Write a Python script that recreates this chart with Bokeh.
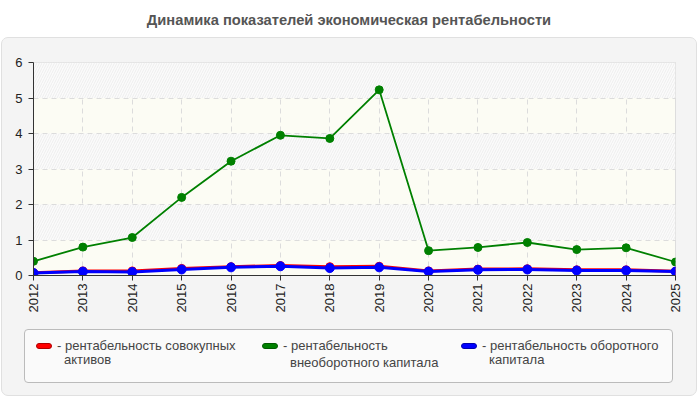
from bokeh.embed import file_html
from bokeh.layouts import column
from bokeh.models import Div, FixedTicker, Range1d
from bokeh.plotting import figure
from bokeh.resources import INLINE
from math import pi

# data
years = [2012, 2013, 2014, 2015, 2016, 2017, 2018, 2019, 2020, 2021, 2022, 2023, 2024, 2025]
total_assets = [0.08, 0.13, 0.13, 0.20, 0.25, 0.28, 0.25, 0.26, 0.13, 0.18, 0.19, 0.16, 0.16, 0.12]
noncurrent_capital = [0.40, 0.80, 1.07, 2.20, 3.22, 3.95, 3.86, 5.23, 0.70, 0.79, 0.93, 0.73, 0.78, 0.38]
current_capital = [0.07, 0.11, 0.10, 0.17, 0.23, 0.26, 0.21, 0.23, 0.11, 0.16, 0.17, 0.14, 0.14, 0.11]
y_ticks = [0, 1, 2, 3, 4, 5, 6]

title_text = "Динамика показателей экономическая рентабельности"
legend_lines = [
    ("рентабельность совокупных", "активов"),
    ("рентабельность", "внеоборотного капитала"),
    ("рентабельность оборотного", "капитала"),
]
colors = ["#ff0000", "#008000", "#0000ff"]
edges = ["#b00000", "#005a00", "#0000b0"]

FONT = "'Liberation Sans', Arial, sans-serif"

title = Div(
    text=title_text,
    width=698,
    height=37,
    margin=0,
    styles={
        "text-align": "center",
        "font-family": FONT,
        "font-weight": "bold",
        "font-size": "14.7px",
        "color": "#555555",
        "line-height": "40px",
    },
)

p = figure(
    width=694,
    height=280,
    min_border_left=31,
    min_border_right=21,
    min_border_top=24,
    min_border_bottom=43,
    x_range=Range1d(years[0], years[-1]),
    y_range=Range1d(0, 6),
    output_backend="svg",
    toolbar_location=None,
    tools="",
    margin=0,
)
p.border_fill_color = "#f4f4f4"
p.background_fill_color = "#fcfcf4"
p.outline_line_color = "#dddddd"

p.line(years, total_assets, line_color=colors[0], line_width=3)
p.scatter(years, total_assets, size=8, color=colors[0])
p.line(years, noncurrent_capital, line_color=colors[1], line_width=1.8)
p.scatter(years, noncurrent_capital, size=8, color=colors[1])
p.line(years, current_capital, line_color=colors[2], line_width=3)
p.scatter(years, current_capital, size=9, color=colors[2])

# grid and alternating hatched bands (0-1, 2-3, 4-5)
p.xgrid.ticker = FixedTicker(ticks=years)
p.ygrid.ticker = FixedTicker(ticks=[-1] + y_ticks)
p.grid.grid_line_color = "#dcdcdc"
p.grid.grid_line_dash = "5 4"
p.ygrid.band_fill_color = "#fbfbfb"
p.ygrid.band_fill_alpha = 1
p.ygrid.band_hatch_pattern = "/"
p.ygrid.band_hatch_color = "#eeeeee"
p.ygrid.band_hatch_scale = 5
p.ygrid.band_hatch_weight = 1

# axes
p.xaxis.ticker = FixedTicker(ticks=years)
p.yaxis.ticker = FixedTicker(ticks=y_ticks)
p.xaxis.major_label_orientation = pi / 2
p.axis.minor_tick_line_color = None
p.axis.major_tick_in = 0
p.axis.major_tick_out = 5
p.axis.axis_line_color = "#333333"
p.axis.major_tick_line_color = "#333333"
p.axis.major_label_text_color = "#222222"
p.axis.major_label_text_font = "Liberation Sans"
p.axis.major_label_text_font_size = "13px"
p.xaxis.major_label_standoff = 3
p.yaxis.major_label_standoff = 6

# legend box below the plot (multi-line labels)
item_left = [11, 237, 436]
second_gap = [0, 3, 0]
parts = []
for (first, second), color, edge, left, gap in zip(legend_lines, colors, edges, item_left, second_gap):
    parts.append(
        f'<div style="position:absolute;left:{left}px;top:9px;">'
        f'<span style="position:absolute;left:0;top:4px;width:16px;height:6px;'
        f'background:{color};border:1px solid {edge};border-radius:3px;"></span>'
        f'<div style="position:absolute;left:21px;top:0;white-space:nowrap;line-height:14px;">'
        f'- {first}<br><span style="display:inline-block;margin-left:7px;margin-top:{gap}px;">{second}</span>'
        f"</div></div>"
    )
legend_box = Div(
    text="".join(parts),
    width=649,
    height=54,
    margin=(11, 0, 12, 22),
    styles={
        "position": "relative",
        "box-sizing": "border-box",
        "background": "#fafafa",
        "border": "1px solid #bbbbbb",
        "border-radius": "4px",
        "font-family": FONT,
        "font-size": "13px",
        "color": "#444444",
    },
)

panel = column(
    p,
    legend_box,
    margin=(0, 0, 0, 1),
    styles={
        "background": "#f4f4f4",
        "border": "1px solid #e0e0e0",
        "border-radius": "7px",
        "overflow": "hidden",
    },
)

layout = column(title, panel, margin=0)
open("out.html", "w").write(file_html(layout, INLINE))
